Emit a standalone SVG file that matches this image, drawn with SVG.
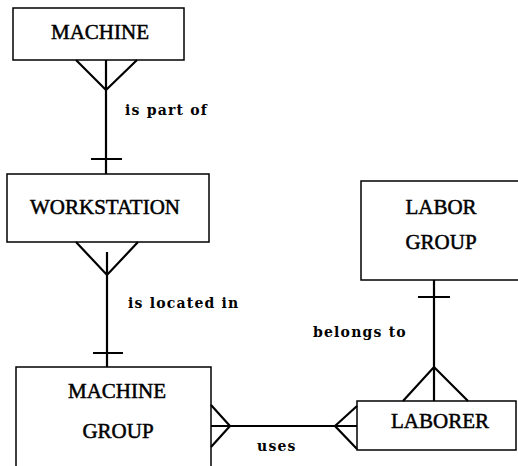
<svg xmlns="http://www.w3.org/2000/svg" width="518" height="466" viewBox="0 0 518 466">
<style>
.box{fill:#fff;stroke:#000;stroke-width:1.5}
.nt{font-family:"Liberation Serif",serif;font-size:21px;fill:#000;stroke:#000;stroke-width:0.5;text-anchor:middle}
.lb{font-family:"DejaVu Serif",serif;font-weight:bold;font-size:14px;fill:#000;letter-spacing:1.2px}
.ln{fill:none;stroke:#000;stroke-width:2.2}
</style>
<rect width="518" height="466" fill="#fff"/>
<g id="machine"><rect class="box" x="13" y="8" width="171" height="52"/><text class="nt" x="100" y="39">MACHINE</text></g>
<g id="workstation"><rect class="box" x="7" y="174" width="202" height="68"/><text class="nt" x="105" y="214">WORKSTATION</text></g>
<g id="machine-group"><rect class="box" x="16" y="367" width="195" height="110"/><text class="nt" x="117" y="398">MACHINE</text><text class="nt" x="118" y="438">GROUP</text></g>
<g id="labor-group"><rect class="box" x="361" y="181" width="160" height="99"/><text class="nt" x="441" y="214">LABOR</text><text class="nt" x="441" y="249">GROUP</text></g>
<g id="laborer"><rect class="box" x="357" y="401" width="159" height="49"/><text class="nt" x="440" y="428">LABORER</text></g>
<g id="connectors">
<path class="ln" d="M106 60V174M76 60L106 90L137 60M91 159H122"/>
<text class="lb" x="125" y="115">is part of</text>
<path class="ln" d="M107 252V367M76 242L107 275L138 242M93 353H123"/>
<text class="lb" x="128" y="308">is located in</text>
<path class="ln" d="M434 280V401M403 401L434 367L468 401M418 297H450"/>
<text class="lb" x="313" y="337">belongs to</text>
<path class="ln" d="M211 426H357M211 405L230 426L211 447M357 406L335 426L357 449"/>
<text class="lb" x="257" y="451">uses</text>
</g>
</svg>
